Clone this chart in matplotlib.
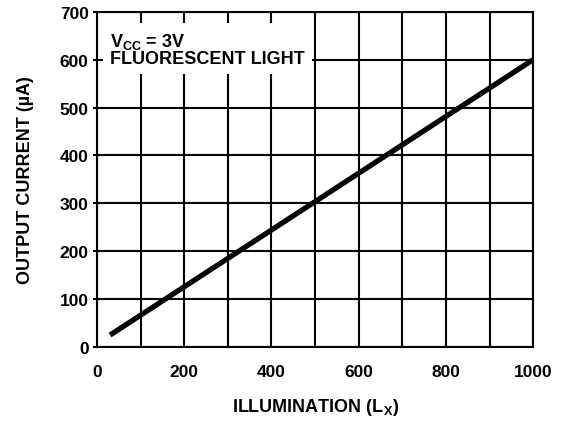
import numpy as np
import matplotlib
matplotlib.use('Agg')
import matplotlib.pyplot as plt

plt.rcParams['font.family'] = 'Liberation Sans'
plt.rcParams['font.weight'] = 'bold'
plt.rcParams['mathtext.fontset'] = 'custom'
plt.rcParams['mathtext.rm'] = 'Liberation Sans:bold'
plt.rcParams['mathtext.it'] = 'Liberation Sans:bold'
plt.rcParams['mathtext.bf'] = 'Liberation Sans:bold'

# data
illum = [30, 1000]
current = [25, 600]
xticks = [0, 200, 400, 600, 800, 1000]
yticks = [0, 100, 200, 300, 400, 500, 600, 700]

fig = plt.figure(figsize=(5.62, 4.27), dpi=100)
ax = fig.add_axes([0.1726, 0.185, 0.776, 0.785])

ax.set_xlim(0, 1000)
ax.set_ylim(0, 700)
ax.set_xticks(np.arange(0, 1001, 100), minor=True)
ax.set_xticks(xticks)
ax.set_yticks(yticks)
ax.grid(True, which='both', color='black', linewidth=1.5)
ax.tick_params(which='both', direction='out', length=3, width=1.5, labelsize=12.5, pad=3)
ax.tick_params(axis='x', which='both', length=0, pad=12)
for s in ax.spines.values():
    s.set_linewidth(1.5)

ax.plot(illum, current, color='black', linewidth=3.8, solid_capstyle='butt', zorder=3)

# white label box covering the grid
ax.text(30, 660, 'V$_{CC}$ = 3V\nFLUORESCENT LIGHT', fontsize=13, fontweight='bold',
        va='top', ha='left', linespacing=0.95, zorder=4,
        bbox=dict(facecolor='white', edgecolor='none', pad=5))

ax.set_xlabel('ILLUMINATION (L$_X$)', fontsize=13, fontweight='bold')
ax.set_ylabel('OUTPUT CURRENT (µA)', fontsize=13, fontweight='bold')
ax.xaxis.set_label_coords(0.5, -0.145)
ax.yaxis.set_label_coords(-0.145, 0.5)

fig.savefig('out.png', dpi=100)
